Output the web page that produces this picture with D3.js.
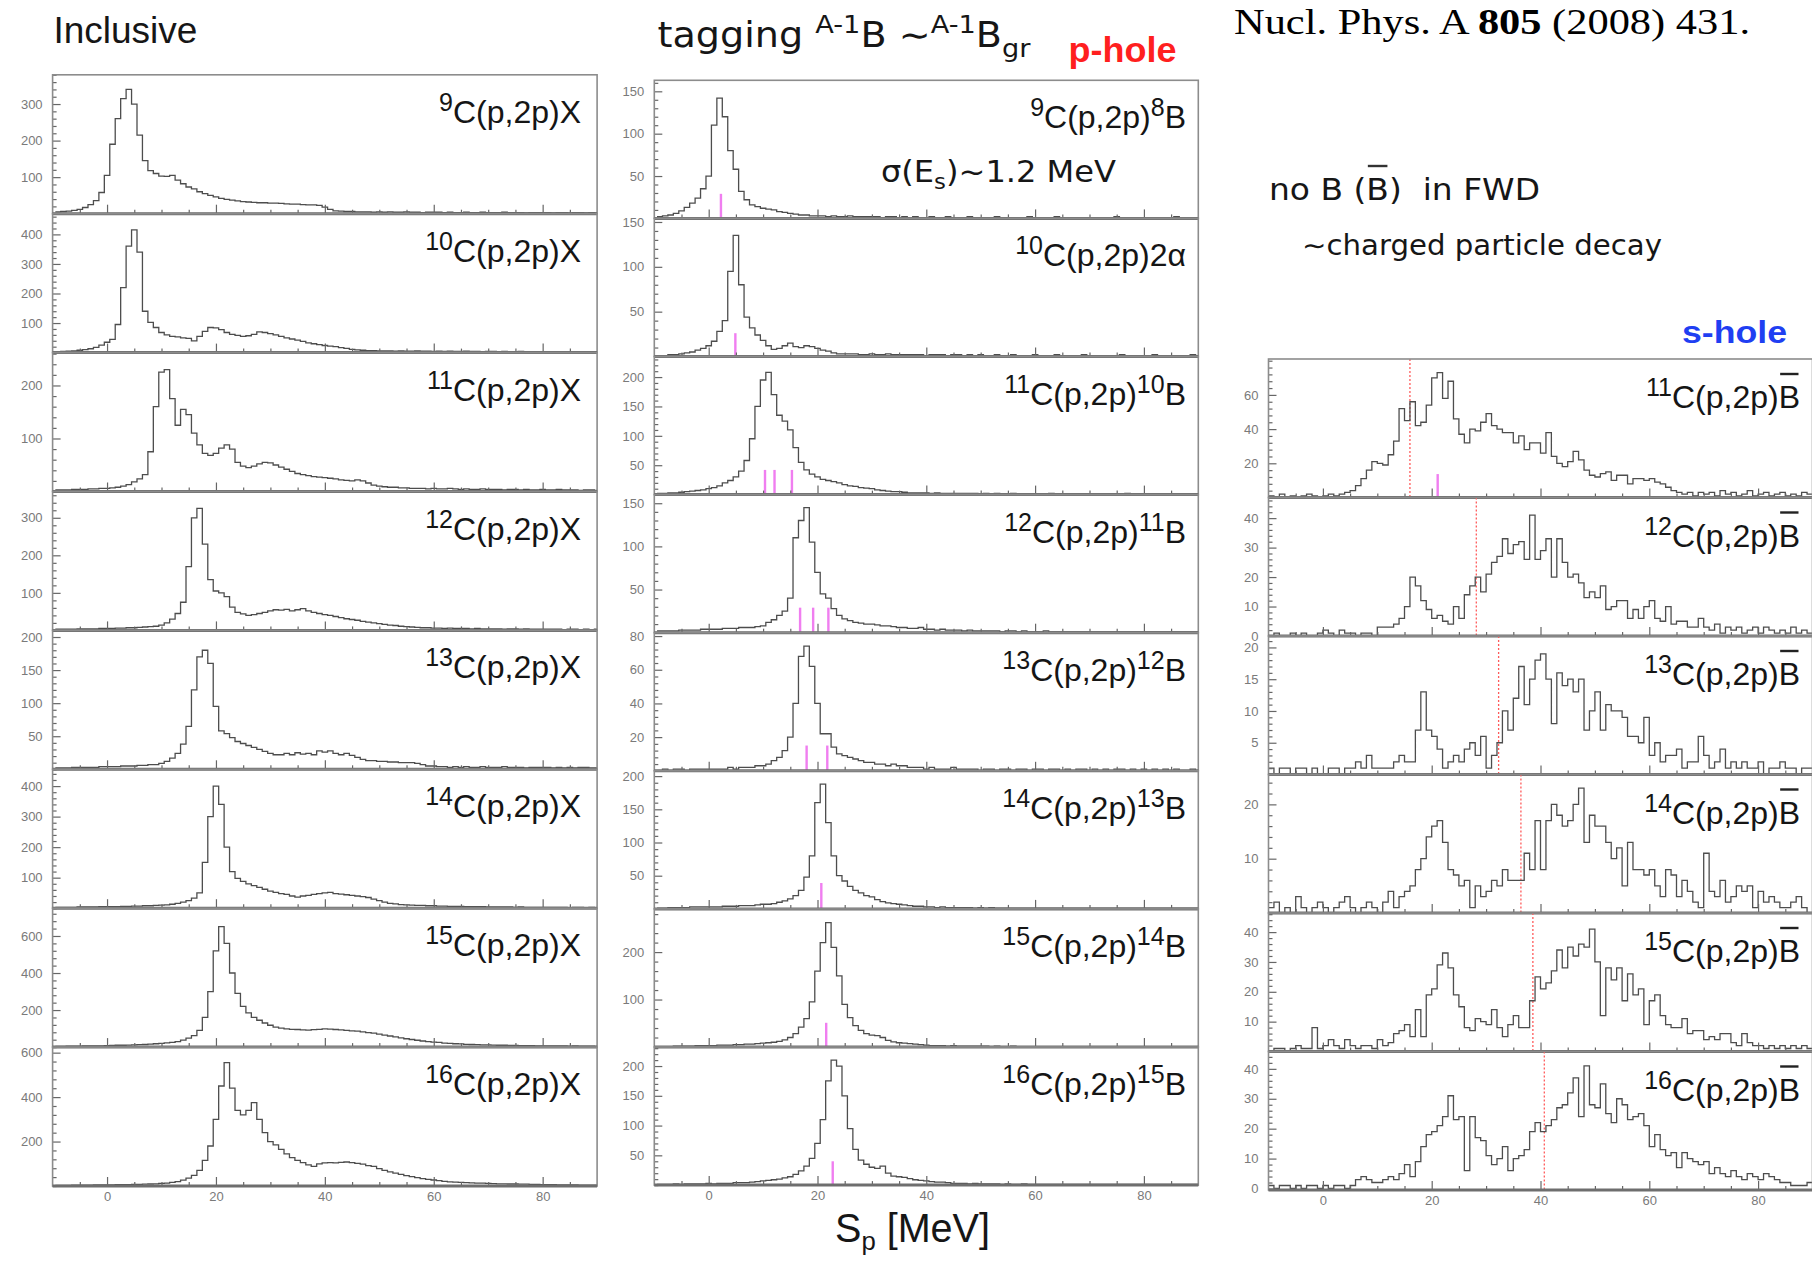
<!DOCTYPE html>
<html><head><meta charset="utf-8">
<script src="https://cdn.jsdelivr.net/npm/d3@7/dist/d3.min.js"></script>
<style>body{margin:0;background:#fff}svg{display:block}</style>
</head><body>
<svg id="c" width="1812" height="1261" xmlns="http://www.w3.org/2000/svg"></svg>
<script>
// ---------------- DATA ----------------
const xDomain = [-10, 90];
const xMajorTicks = [0, 20, 40, 60, 80];
const xTickLabels = ["0", "20", "40", "60", "80"];
const binWidth = 1;
const binStartTagged = -9.5;   // inclusive & tagged columns
const binStartSHole = -10;     // s-hole column

// Inclusive C(p,2p)X
const incl9 = [5,6,7,9,12,17,25,36,58,105, 190,260,315,340,300,215,145,118,110,103, 102,105,92,82,73,68,60,55,50,46, 42,39,37,35,33,32,31,30,30,29, 29,28,27,26,26,25,24,24,23,18, 12,8,7,6,6,5,5,5,4,5, 4,5,4,4,5,4,4,3,4,4, 4,3,4,3,3,4,3,3,4,3, 3,3,4,3,3,3,2,3,3,3, 3,2,3,3,2,3,3,2,3,2];
const incl10 = [3,4,5,6,8,10,13,18,25,35, 45,95,220,360,415,340,140,102,85,68, 60,55,53,50,48,40,55,72,85,84, 78,68,62,58,55,57,62,70,68,64, 60,55,50,46,42,38,33,30,27,24, 22,20,17,14,11,9,8,7,7,6, 6,6,5,6,5,5,6,5,5,4, 5,4,5,4,4,5,4,4,3,4, 4,3,4,3,3,4,3,3,3,3, 3,3,2,3,3,2,3,2,3,2];
const incl11 = [3,3,3,4,4,4,5,5,6,6, 7,8,10,13,18,24,32,75,160,225, 230,175,125,155,145,110,88,72,68,72, 82,88,80,55,48,45,48,52,55,54, 50,46,42,38,34,32,30,28,27,26, 25,24,22,21,20,22,20,16,12,10, 9,8,8,7,7,6,6,6,5,6, 5,5,6,5,4,5,4,4,5,4, 4,4,3,4,4,3,4,3,3,4, 3,3,4,3,3,3,2,3,3,2];
const incl12 = [3,3,3,3,4,4,4,4,5,5, 5,6,6,7,7,8,9,10,11,14, 20,30,45,75,170,300,325,230,135,105, 100,90,62,48,44,40,42,45,48,52, 55,54,56,52,55,58,52,48,45,42, 40,37,34,31,29,27,24,22,20,18, 16,14,13,11,10,9,8,7,7,6, 6,5,6,5,5,5,4,5,4,4, 4,4,3,4,4,3,4,3,3,3, 3,3,3,2,3,3,2,3,2,3];
const incl13 = [2,2,2,3,3,3,3,3,4,4, 4,4,5,5,5,6,6,7,7,9, 12,17,24,38,65,120,170,180,160,95, 58,54,48,42,39,36,33,30,27,24, 22,22,24,22,25,23,24,22,28,26, 28,24,22,24,21,18,15,13,13,12, 12,11,11,10,10,10,9,7,5,5, 4,4,3,4,3,4,3,3,4,3, 3,3,4,3,3,3,2,3,3,3, 3,2,3,2,3,2,3,3,2,2];
const incl14 = [3,3,3,3,4,4,4,4,5,5, 5,5,6,6,7,7,8,8,9,10, 11,13,16,20,25,33,50,150,300,400, 340,200,120,98,88,80,74,68,62,56, 52,48,45,40,36,40,42,45,48,50, 52,48,46,44,42,40,38,35,30,25, 20,16,14,12,11,10,9,9,8,8, 7,7,6,6,6,5,5,5,5,4, 4,4,4,4,3,4,3,3,3,3, 3,3,3,3,2,3,3,2,3,2];
const incl15 = [4,4,5,5,5,6,6,7,7,8, 9,10,10,11,12,13,14,16,18,20, 23,26,30,38,48,62,90,160,300,520, 650,560,400,290,220,185,160,145,130,118, 108,102,98,96,95,93,92,94,96,98, 97,95,93,90,88,86,82,78,75,70, 65,60,55,50,45,41,37,33,30,27, 25,22,20,18,17,15,14,13,12,12, 11,10,10,9,9,8,8,8,7,7, 7,6,6,6,5,6,5,5,5,4];
const incl16 = [3,3,3,4,4,4,4,5,5,5, 5,6,6,6,7,7,8,9,10,12, 13,16,20,26,35,48,70,115,180,300, 450,555,440,340,320,340,375,300,240,200, 185,165,145,128,115,105,95,88,100,104, 105,104,106,108,105,102,98,92,88,78, 70,64,58,52,47,42,38,33,30,27, 24,21,19,17,16,15,14,13,13,12, 11,10,10,9,9,8,8,7,7,6, 6,6,5,5,5,5,4,4,4,4];

// Tagged A-1B
const tag9 = [2,3,4,6,9,13,18,24,35,50, 110,142,120,80,58,32,22,16,14,12, 11,10,8,7,6,5,4,4,3,3, 3,2,3,2,2,3,2,2,2,2, 2,1,2,2,1,2,1,2,1,1, 2,1,1,2,1,1,1,2,1,1, 1,1,2,1,1,1,1,1,2,1, 1,1,1,2,1,1,1,1,1,1, 1,1,1,1,2,1,1,1,1,1, 1,1,1,1,1,2,1,1,1,1];
const tag10 = [1,1,2,2,3,4,5,7,9,12, 17,28,40,95,135,80,44,32,24,18, 12,8,9,12,15,11,10,12,11,9, 7,6,4,3,3,3,3,2,2,3, 2,2,3,2,2,2,2,2,2,1, 2,2,2,1,2,2,1,2,1,2, 1,1,2,1,1,2,1,1,1,2, 1,1,1,2,1,1,1,1,2,1, 1,1,1,1,1,2,1,1,1,1, 1,2,1,1,1,1,1,1,2,1];
const tag11 = [2,2,3,3,4,5,6,7,8,10, 12,15,20,24,30,40,58,95,150,195, 208,170,135,125,110,80,55,42,35,30, 26,24,22,20,17,15,14,12,11,10, 8,7,6,5,5,4,3,3,3,3, 2,3,2,2,2,2,2,2,2,1, 2,1,2,1,1,2,1,1,1,1, 1,1,2,1,1,1,1,1,1,1, 1,1,1,1,1,1,2,1,1,1, 1,1,1,1,1,1,1,1,1,1];
const tag12 = [2,2,2,2,3,3,3,3,4,4, 4,4,5,5,5,6,6,6,7,8, 12,15,20,25,40,110,130,145,105,70, 45,40,28,20,16,14,12,11,10,10, 9,8,8,7,6,6,5,5,6,4, 4,3,4,3,3,3,2,3,2,2, 2,2,2,1,2,2,1,2,1,1, 1,2,1,1,1,1,1,1,1,1, 1,1,1,1,1,1,1,1,1,1, 1,1,1,1,1,1,1,1,1,1];
const tag13 = [0,1,0,1,1,0,1,1,1,1, 1,1,1,2,1,2,2,2,3,3, 4,6,8,12,20,40,68,74,62,40, 22,22,14,10,9,8,7,6,5,5, 4,4,3,4,3,3,2,2,2,1, 2,1,1,1,2,1,1,1,1,0, 1,1,0,1,1,0,1,1,0,1, 1,0,1,1,0,1,0,1,1,0, 1,0,1,0,1,1,0,1,0,1, 0,1,0,1,0,1,0,0,1,0];
const tag14 = [1,1,2,2,2,2,3,3,3,3, 3,3,4,4,4,5,5,5,6,7, 7,8,10,12,15,20,28,48,80,160, 188,130,80,50,42,34,28,24,20,18, 14,11,9,8,7,6,5,4,4,3, 3,2,3,2,2,2,2,2,1,2, 1,2,1,1,1,1,1,1,1,1, 1,1,1,1,1,1,1,1,1,1, 1,1,1,1,1,1,1,1,1,1, 1,1,1,1,1,1,1,1,1,1];
const tag15 = [1,1,1,2,2,2,2,3,3,3, 3,4,4,4,5,5,6,6,7,8, 9,10,12,15,20,28,42,60,95,160, 220,262,210,150,90,62,45,35,28,25, 24,20,14,11,9,8,7,6,5,4, 3,3,3,2,3,2,2,2,2,2, 2,1,2,1,1,2,1,1,1,1, 1,1,1,1,1,1,1,1,1,1, 1,1,1,1,1,1,1,1,1,1, 1,1,1,1,1,1,1,1,1,1];
const tag16 = [1,1,1,2,1,2,2,2,2,3, 2,3,3,3,4,4,4,5,6,7, 8,9,10,12,14,18,24,32,45,70, 110,175,210,200,150,95,60,42,35,30, 28,32,20,15,14,13,11,9,8,7, 6,5,5,4,3,3,3,2,3,2, 2,2,2,1,2,1,1,2,1,1, 1,1,1,1,1,1,1,1,1,1, 1,1,1,1,1,1,1,1,1,1, 1,1,1,1,1,1,1,1,1,1];

// s-hole (no B in FWD)
const sh11 = [1,0,2,0,1,0,1,2,1,0, 1,2,1,2,3,4,7,11,16,21, 20,19,25,33,52,45,56,42,44,54, 70,73,58,68,46,37,32,40,39,44, 49,42,40,38,38,32,36,28,32,32, 26,38,24,20,18,21,27,22,16,13, 12,14,15,10,13,13,8,11,11,10, 11,9,8,6,4,3,2,3,1,3, 2,3,1,4,2,3,1,2,4,1, 2,3,1,2,3,1,2,1,3,2];
const sh12 = [0,1,0,0,1,0,1,0,0,1, 2,1,0,2,1,1,0,1,1,0, 3,3,3,4,6,10,20,17,12,9, 6,7,5,4,10,6,14,17,20,15, 21,25,27,33,28,31,32,26,41,26, 29,33,20,33,25,20,21,18,13,15, 13,17,9,10,12,12,6,9,6,10, 12,6,5,10,4,5,5,3,3,6, 3,2,4,1,3,2,3,1,2,3, 1,3,2,1,2,1,3,1,2,1];
const sh13 = [1,0,1,1,0,1,1,0,1,0, 0,1,1,0,1,1,2,1,3,1, 1,1,1,2,3,2,2,7,13,7, 6,4,1,2,3,2,4,5,3,6, 1,3,5,10,7,12,17,11,15,18, 19,15,8,16,14,15,13,15,7,10, 13,7,11,10,10,9,6,6,5,9, 3,5,2,3,3,4,1,2,2,6, 3,1,2,4,1,2,1,2,1,1, 2,0,1,1,2,1,1,0,1,1];
const sh14 = [1,2,0,1,0,3,1,0,1,2, 1,0,1,2,3,1,0,1,2,1, 0,2,4,1,3,4,5,8,10,14, 16,17,13,8,7,5,6,1,5,3, 4,6,5,8,6,6,6,11,8,17, 8,17,20,18,16,17,20,23,13,18, 16,16,13,10,12,5,13,8,8,7, 8,5,3,8,7,3,6,4,2,1, 11,4,3,6,2,3,5,4,5,1, 4,2,3,2,1,1,2,3,1,0];
const sh15 = [0,1,1,0,1,2,1,1,8,1, 2,4,2,1,4,2,1,2,2,1, 4,2,3,6,7,9,5,14,5,19, 21,29,33,28,19,15,8,7,11,10, 9,14,8,5,9,12,8,8,17,25, 21,23,27,34,28,35,32,36,35,41, 30,12,28,24,28,17,26,19,21,9, 17,19,12,9,8,8,11,6,7,7, 4,5,4,6,6,3,2,6,3,2, 2,1,2,1,2,1,2,1,2,1];
const sh16 = [1,0,1,1,0,1,0,1,1,0, 1,0,1,1,0,1,3,4,3,2, 2,3,4,3,5,8,4,9,14,18, 19,21,24,31,23,24,6,24,17,16, 11,8,10,14,6,10,11,13,19,22, 19,21,23,27,28,32,37,24,41,28, 27,35,25,22,30,28,23,24,25,21, 14,18,13,11,12,7,12,10,9,8, 9,5,7,5,4,6,4,3,5,4, 3,5,4,3,2,2,1,1,1,2];

// Axis ranges and tick labels
const inclYMax = [380, 470, 262, 370, 210, 455, 750, 625];
const inclYTicks = [[100,200,300],[100,200,300,400],[100,200],[100,200,300],[50,100,150,200],[100,200,300,400],[200,400,600],[200,400,600]];
const tagYMax = [163, 154, 235, 160, 82, 208, 291, 232];
const tagYTicks = [[50,100,150],[50,100,150],[50,100,150,200],[50,100,150],[20,40,60,80],[50,100,150,200],[100,200],[50,100,150,200]];
const sHoleYDomain = [[0,81],[0,47],[0,21.8],[0,25.5],[0,46.4],[-0.5,45.8]];
const sHoleYTicks = [[20,40,60],[0,10,20,30,40],[5,10,15,20],[10,20],[10,20,30,40],[0,10,20,30,40]];

// Labels
const inclMass = ["9","10","11","12","13","14","15","16"];
const tagMass = ["9","10","11","12","13","14","15","16"];
const tagProductMass = ["8","","10","11","12","13","14","15"];
const tagProduct = ["B","2\u03b1","B","B","B","B","B","B"];
const sHoleMass = ["11","12","13","14","15","16"];

// Known levels (magenta) and thresholds (red dotted)
const tagLevels = [[2.25],[4.9],[10.35,12.1,15.3],[16.8,19.2,22.0],[18.0,21.8],[20.7],[21.6],[22.8]];
const tagLevelHeights = [29, 26, 42, 29, 15, 39, 51, 40];
const sHoleLevels = [[21.1],[],[],[],[],[]];
const sHoleLevelHeights = [13.7, 0, 0, 0, 0, 0];
const sHoleThresholds = [16.0, 28.2, 32.3, 36.4, 38.6, 40.7];

// ---------------- DRAWING ----------------
const FONT = "'Liberation Sans', Arial, Helvetica, sans-serif";
const WIDE = "'DejaVu Sans', Verdana, sans-serif";
const svg = d3.select("#c");

function drawPanel(o) {
  const x = d3.scaleLinear().domain(xDomain).range([o.x0, o.x0 + o.w]);
  const y = d3.scaleLinear().domain(o.yDomain).range([o.y0 + o.h, o.y0]);
  const g = svg.append("g");
  const bottom = o.y0 + o.h;

  if (o.threshold !== undefined) {
    g.append("line").attr("x1", x(o.threshold)).attr("x2", x(o.threshold))
      .attr("y1", o.y0).attr("y2", bottom)
      .attr("stroke", "#ff5a5a").attr("stroke-width", 1.3).attr("stroke-dasharray", "2,2");
  }

  const pts = [];
  o.data.forEach((v, i) => {
    const a = o.binStart + i * binWidth;
    pts.push([Math.max(a, xDomain[0]), v], [Math.min(a + binWidth, xDomain[1]), v]);
  });
  g.append("path").attr("d", d3.line().x(d => x(d[0])).y(d => y(d[1]))(pts))
    .attr("fill", "none").attr("stroke", "#4d4d4d").attr("stroke-width", 1.3);

  (o.levels || []).forEach(m => {
    g.append("line").attr("x1", x(m)).attr("x2", x(m))
      .attr("y1", y(0)).attr("y2", y(o.levelH))
      .attr("stroke", "#f07ef0").attr("stroke-width", 2.4);
  });

  const step5 = [];
  for (let v = xDomain[0] + 5; v < xDomain[1]; v += 5) if (!xMajorTicks.includes(v)) step5.push(v);
  const xMinor = g.append("g").attr("transform", `translate(0,${bottom})`)
    .call(d3.axisBottom(x).tickValues(step5).tickSize(-4).tickFormat(""));
  const xMaj = g.append("g").attr("transform", `translate(0,${bottom})`)
    .call(d3.axisBottom(x).tickValues(xMajorTicks).tickSize(-9).tickPadding(6)
      .tickFormat((d, i) => o.showX ? xTickLabels[i] : ""));
  const ys = o.yTicks[1] - o.yTicks[0];
  const minor = [];
  for (let k = Math.ceil(o.yDomain[0] / (ys / 5)); k * ys / 5 <= o.yDomain[1]; k++) {
    const v = k * ys / 5;
    if (!o.yTicks.some(t => Math.abs(t - v) < 1e-9)) minor.push(v);
  }
  const yMinor = g.append("g").attr("transform", `translate(${o.x0},0)`)
    .call(d3.axisLeft(y).tickValues(minor).tickSize(-4).tickFormat(""));
  const yMaj = g.append("g").attr("transform", `translate(${o.x0},0)`)
    .call(d3.axisLeft(y).tickValues(o.yTicks).tickSize(-8).tickPadding(10).tickFormat(d3.format("d")));
  [xMinor, xMaj, yMinor, yMaj].forEach(a => {
    a.select(".domain").remove();
    a.selectAll("line").attr("stroke", "#666").attr("stroke-width", 1.2);
    a.selectAll("text").attr("fill", "#7a7a7a").style("font-family", FONT).style("font-size", "13px");
  });

  g.append("rect").attr("x", o.x0).attr("y", o.y0).attr("width", o.w).attr("height", o.h)
    .attr("fill", "none").attr("stroke", "#8c8c8c").attr("stroke-width", 1.6);
  g.append("line").attr("x1", o.x0).attr("x2", o.x0 + o.w).attr("y1", bottom).attr("y2", bottom)
    .attr("stroke", "#6e6e6e").attr("stroke-width", 3);

  const t = g.append("text").attr("x", o.labelX).attr("y", o.y0 + o.labelDy)
    .attr("text-anchor", "end").attr("fill", "#151515")
    .style("font-family", FONT).style("font-size", "32px");
  let cur = 0;
  o.label.forEach(p => {
    const target = p.sup ? -12 : 0;
    const ts = t.append("tspan").text(p.t).attr("dy", target - cur);
    if (p.sup) ts.style("font-size", "25px");
    cur = target;
  });
  if (o.overline) {
    const node = t.node();
    const e = node.getExtentOfChar(node.getNumberOfChars() - 1);
    g.append("line").attr("x1", e.x + 1.5).attr("x2", e.x + e.width - 1.5)
      .attr("y1", e.y - 5).attr("y2", e.y - 5).attr("stroke", "#222").attr("stroke-width", 2.4);
  }
}

const c1 = {x0: 52.6, w: 544.5, top: 74.8, h: 138.9};
[incl9, incl10, incl11, incl12, incl13, incl14, incl15, incl16].forEach((d, i) => {
  drawPanel({x0: c1.x0, w: c1.w, y0: c1.top + i * c1.h, h: c1.h, data: d, binStart: binStartTagged,
    yDomain: [0, inclYMax[i]], yTicks: inclYTicks[i], showX: i === 7,
    labelX: 581, labelDy: 48,
    label: [{t: inclMass[i], sup: true}, {t: "C(p,2p)X"}]});
});

const c2 = {x0: 654.3, w: 544, top: 80.3, h: 138.1};
[tag9, tag10, tag11, tag12, tag13, tag14, tag15, tag16].forEach((d, i) => {
  const lab = [{t: tagMass[i], sup: true}, {t: "C(p,2p)"}];
  if (tagProductMass[i]) lab.push({t: tagProductMass[i], sup: true});
  lab.push({t: tagProduct[i]});
  drawPanel({x0: c2.x0, w: c2.w, y0: c2.top + i * c2.h, h: c2.h, data: d, binStart: binStartTagged,
    yDomain: [0, tagYMax[i]], yTicks: tagYTicks[i], showX: i === 7,
    labelX: 1186, labelDy: 48, label: lab,
    levels: tagLevels[i], levelH: tagLevelHeights[i]});
});

const c3 = {x0: 1268.5, w: 544, top: 359, h: 138.5};
[sh11, sh12, sh13, sh14, sh15, sh16].forEach((d, i) => {
  drawPanel({x0: c3.x0, w: c3.w, y0: c3.top + i * c3.h, h: c3.h, data: d, binStart: binStartSHole,
    yDomain: sHoleYDomain[i], yTicks: sHoleYTicks[i], showX: i === 5,
    labelX: 1800, labelDy: 49,
    label: [{t: sHoleMass[i], sup: true}, {t: "C(p,2p)B"}], overline: true,
    levels: sHoleLevels[i], levelH: sHoleLevelHeights[i], threshold: sHoleThresholds[i]});
});

// ---------------- TEXTS ----------------
function txt(x, y, size, opts = {}) {
  const t = svg.append("text").attr("x", x).attr("y", y)
    .attr("fill", opts.fill || "#161616")
    .style("font-family", opts.family || FONT).style("font-size", size + "px")
    .style("font-weight", opts.weight || "normal").style("white-space", "pre");
  if (opts.len) t.attr("textLength", opts.len).attr("lengthAdjust", "spacingAndGlyphs");
  return t;
}

txt(53.4, 43.3, 36, {len: 144}).text("Inclusive");

const tg = txt(657.5, 46.7, 35, {family: WIDE, len: 373});
tg.append("tspan").text("tagging ");
tg.append("tspan").text("A-1").style("font-size", "25px").attr("dy", -14);
tg.append("tspan").text("B \u223C").attr("dy", 14);
tg.append("tspan").text("A-1").style("font-size", "25px").attr("dy", -14);
tg.append("tspan").text("B").attr("dy", 14);
tg.append("tspan").text("gr").style("font-size", "25px").attr("dy", 10);

txt(1068.6, 61.7, 35, {weight: "bold", fill: "#ff1f1f", len: 108}).text("p-hole");

const ref = txt(1234, 34, 35, {family: "'Liberation Serif', 'Times New Roman', serif", fill: "#000", len: 516});
ref.append("tspan").text("Nucl. Phys. A ");
ref.append("tspan").text("805").style("font-weight", "bold");
ref.append("tspan").text(" (2008) 431.");

const sg = txt(881, 181.7, 31, {family: WIDE, len: 235});
sg.append("tspan").text("\u03c3(E");
sg.append("tspan").text("s").style("font-size", "22px").attr("dy", 7);
sg.append("tspan").text(")~1.2 MeV").attr("dy", -7);

const nb = txt(1269, 200, 30, {family: WIDE, len: 271});
nb.text("no B (B)  in FWD");
{
  const e = nb.node().getExtentOfChar(6);
  svg.append("line").attr("x1", e.x + 1.5).attr("x2", e.x + e.width - 1.5)
    .attr("y1", e.y - 6).attr("y2", e.y - 6).attr("stroke", "#333").attr("stroke-width", 2.4);
}
txt(1302, 255, 28, {family: WIDE, len: 360}).text("\u223Ccharged particle decay");
txt(1682, 343, 32, {weight: "bold", fill: "#1f3ff2", len: 105}).text("s-hole");

const sp = txt(835, 1242, 40, {len: 155});
sp.append("tspan").text("S");
sp.append("tspan").text("p").style("font-size", "26px").attr("dy", 8);
sp.append("tspan").text(" [MeV]").attr("dy", -8);
</script>
</body></html>
